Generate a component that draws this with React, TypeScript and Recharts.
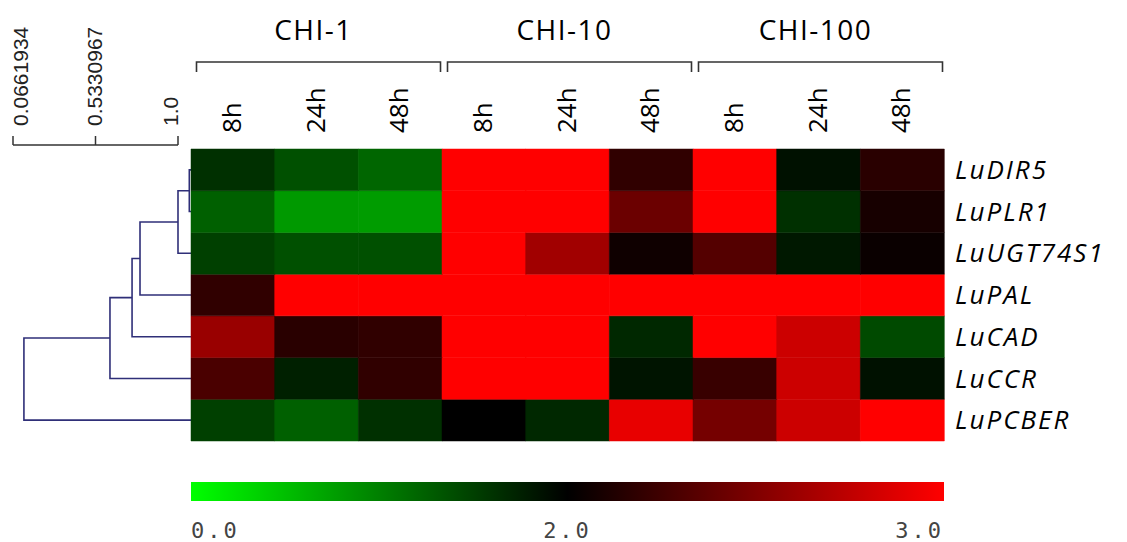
import React from 'react';
import { BarChart, Bar, Cell, XAxis, YAxis, ScatterChart, Scatter } from 'recharts';

const groups = ['CHI-1', 'CHI-10', 'CHI-100'];
const times = ['8h', '24h', '48h'];
const genes = ['LuDIR5', 'LuPLR1', 'LuUGT74S1', 'LuPAL', 'LuCAD', 'LuCCR', 'LuPCBER'];

// expression per gene, columns: CHI-1 8/24/48h, CHI-10 8/24/48h, CHI-100 8/24/48h
const luDIR5 = [1.62, 1.37, 1.2, 3.0, 3.0, 2.19, 3.0, 1.87, 2.16];
const luPLR1 = [1.25, 0.8, 0.78, 3.0, 3.0, 2.42, 3.0, 1.62, 2.09];
const luUGT74S1 = [1.5, 1.37, 1.37, 3.0, 2.63, 2.06, 2.33, 1.81, 2.04];
const luPAL = [2.19, 3.0, 3.0, 3.0, 3.0, 3.0, 3.0, 3.0, 3.0];
const luCAD = [2.6, 2.16, 2.19, 3.0, 3.0, 1.69, 3.0, 2.8, 1.42];
const luCCR = [2.29, 1.75, 2.19, 3.0, 3.0, 1.84, 2.22, 2.8, 1.87];
const luPCBER = [1.5, 1.25, 1.62, 2.0, 1.69, 2.91, 2.46, 2.8, 3.0];
const expression = [luDIR5, luPLR1, luUGT74S1, luPAL, luCAD, luCCR, luPCBER];

// dendrogram merges: [node a, node b, height]; leaves are 0..6, merges get 7, 8, ...
const linkage = [
  [0, 1, 1.064],
  [7, 2, 1.0],
  [8, 3, 0.785],
  [9, 4, 0.74],
  [10, 5, 0.615],
  [11, 6, 0.128],
];
const leafHeight = 1.0736;
const scaleTicks = [0.0661934, 0.5330967, 1.0];
const scaleLabels = ['0.0661934', '0.5330967', '1.0'];

const legendValues = [0, 2, 3];
const legendLabels = ['0.0', '2.0', '3.0'];

// position on the colour bar (black sits in the middle at 2.0)
const toPos = (v: number) => (v <= 2 ? v / 4 : 0.5 + (v - 2) / 2);
const toColor = (v: number) => {
  const t = toPos(v);
  if (t <= 0.5) return `rgb(0,${Math.round(255 * (1 - t * 2))},0)`;
  return `rgb(${Math.round(255 * (t * 2 - 1))},0,0)`;
};

const columns = groups.flatMap((g) => times.map((t) => ({ key: `${g}|${t}`, group: g, time: t })));
const heatData = columns.map((c) => {
  const row: any = { ...c };
  genes.forEach((gn) => (row[gn] = 1));
  return row;
});

// each merge becomes one bracket-shaped path: child a -> height -> child b
const nodes = genes.map((_, i) => ({ y: i + 0.5, h: leafHeight }));
const links: { x: number; y: number }[][] = [];
linkage.forEach(([a, b, h]) => {
  const A = nodes[a];
  const B = nodes[b];
  links.push([
    { x: A.h, y: A.y },
    { x: h, y: A.y },
    { x: h, y: B.y },
    { x: B.h, y: B.y },
  ]);
  nodes.push({ y: (A.y + B.y) / 2, h });
});

const W = 1127;
const H = 542;
const noDot = () => <g />;

const TimeTick = ({ x, y, payload }: any) => {
  const [group, time] = String(payload.value).split('|');
  const mid = times.indexOf(time) === 1;
  const bx = x + 8;
  return (
    <g>
      <text
        x={bx}
        y={y}
        transform={`rotate(-90 ${bx} ${y})`}
        textAnchor="start"
        fontFamily="Open Sans"
        fontSize={26}
        fill="#000"
      >
        {time}
      </text>
      {mid && (
        <>
          <text x={x - 3} y={40} textAnchor="middle" fontFamily="Open Sans" fontSize={28} letterSpacing={1.5} fill="#000">
            {group}
          </text>
          <path d={`M${x - 120} 72 V62 H${x + 124} V72`} fill="none" stroke="#333" strokeWidth={1.6} />
        </>
      )}
    </g>
  );
};

const GeneTick = ({ x, y, payload }: any) => (
  <text
    x={x}
    y={y}
    dy="0.35em"
    textAnchor="start"
    fontFamily="Open Sans"
    fontStyle="italic"
    fontSize={26}
    letterSpacing={2}
    fill="#000"
  >
    {genes[genes.length - 1 - Math.floor(payload.value)]}
  </text>
);

// first label sits right of its tick, last one left of it
const ScaleTick = ({ x, y, payload }: any) => {
  const i = scaleTicks.indexOf(payload.value);
  const dy = i === 0 ? '0.7em' : i === scaleTicks.length - 1 ? '0em' : '0.3em';
  return (
    <text
      x={x}
      y={y}
      dy={dy}
      transform={`rotate(-90 ${x} ${y})`}
      textAnchor="start"
      fontFamily="Liberation Sans"
      fontSize={21}
      fill="#222"
    >
      {scaleLabels[i]}
    </text>
  );
};

const LegendTick = ({ x, y, index }: any) => (
  <text
    x={x}
    y={y}
    dy="0.75em"
    textAnchor={index === 0 ? 'start' : index === legendLabels.length - 1 ? 'end' : 'middle'}
    fontFamily="DejaVu Sans Mono"
    fontSize={22}
    letterSpacing={3}
    fill="#444"
  >
    {legendLabels[index]}
  </text>
);

export default function App() {
  return (
    <div style={{ position: 'relative', width: W, height: H, background: '#fff' }}>
      <style>{'body{margin:0}'}</style>

      {/* distance scale */}
      <div style={{ position: 'absolute', left: 0, top: 0 }}>
        <ScatterChart width={W} height={150} margin={{ top: 0, right: 949, bottom: 1, left: 13 }}>
          <XAxis
            type="number"
            dataKey="x"
            orientation="top"
            height={145}
            domain={[scaleTicks[0], scaleTicks[scaleTicks.length - 1]]}
            ticks={scaleTicks}
            interval={0}
            tickSize={9}
            tickMargin={10}
            stroke="#333"
            strokeWidth={1.5}
            tick={<ScaleTick />}
          />
          <YAxis type="number" dataKey="y" domain={[0, 1]} hide />
          <Scatter data={scaleTicks.map((v) => ({ x: v, y: 0.5 }))} shape={noDot} isAnimationActive={false} />
        </ScatterChart>
      </div>

      {/* dendrogram */}
      <div style={{ position: 'absolute', left: 0, top: 0 }}>
        <ScatterChart width={W} height={H} margin={{ top: 149, right: W - 191, bottom: 101, left: 13 }}>
          <XAxis type="number" dataKey="x" domain={[scaleTicks[0], leafHeight]} hide />
          <YAxis type="number" dataKey="y" domain={[0, genes.length]} reversed hide />
          {links.map((pts, i) => (
            <Scatter
              key={i}
              data={pts}
              line={{ stroke: '#2f2f78', strokeWidth: 1.6 }}
              lineType="joint"
              shape={noDot}
              isAnimationActive={false}
            />
          ))}
        </ScatterChart>
      </div>

      {/* heatmap */}
      <div style={{ position: 'absolute', left: 0, top: 0 }}>
        <BarChart
          width={W}
          height={H}
          data={heatData}
          margin={{ top: 0, right: 13, bottom: 101, left: 191 }}
          barCategoryGap={0}
          barGap={0}
        >
          <XAxis
            dataKey="key"
            orientation="top"
            height={149}
            axisLine={false}
            tickLine={false}
            tickSize={0}
            tickMargin={16}
            interval={0}
            tick={<TimeTick />}
          />
          <YAxis
            type="number"
            orientation="right"
            domain={[0, genes.length]}
            ticks={genes.map((_, i) => i + 0.5)}
            interval={0}
            width={170}
            axisLine={false}
            tickLine={false}
            tickSize={0}
            tickMargin={11}
            tick={<GeneTick />}
          />
          {[...genes].reverse().map((gene) => {
            const gi = genes.indexOf(gene);
            return (
              <Bar key={gene} dataKey={gene} stackId="heat" isAnimationActive={false}>
                {heatData.map((_, ci) => (
                  <Cell
                    key={ci}
                    fill={toColor(expression[gi][ci])}
                    stroke={toColor(expression[gi][ci])}
                    strokeWidth={0.5}
                  />
                ))}
              </Bar>
            );
          })}
        </BarChart>
      </div>

      {/* colour scale */}
      <div style={{ position: 'absolute', left: 0, top: 470 }}>
        <BarChart
          width={W}
          height={72}
          data={[{ name: 'scale', span: 1 }]}
          layout="vertical"
          margin={{ top: 12, right: 183, bottom: 1, left: 191 }}
          barCategoryGap={0}
        >
          <defs>
            <linearGradient id="heatScale" x1="0" y1="0" x2="1" y2="0">
              {legendValues.map((v) => (
                <stop key={v} offset={toPos(v)} stopColor={toColor(v)} />
              ))}
            </linearGradient>
          </defs>
          <XAxis
            type="number"
            domain={[0, 1]}
            ticks={legendValues.map(toPos)}
            interval={0}
            height={40}
            axisLine={false}
            tickLine={false}
            tickSize={0}
            tickMargin={20}
            tick={<LegendTick />}
          />
          <YAxis type="category" dataKey="name" hide />
          <Bar dataKey="span" fill="url(#heatScale)" isAnimationActive={false} />
        </BarChart>
      </div>
    </div>
  );
}
